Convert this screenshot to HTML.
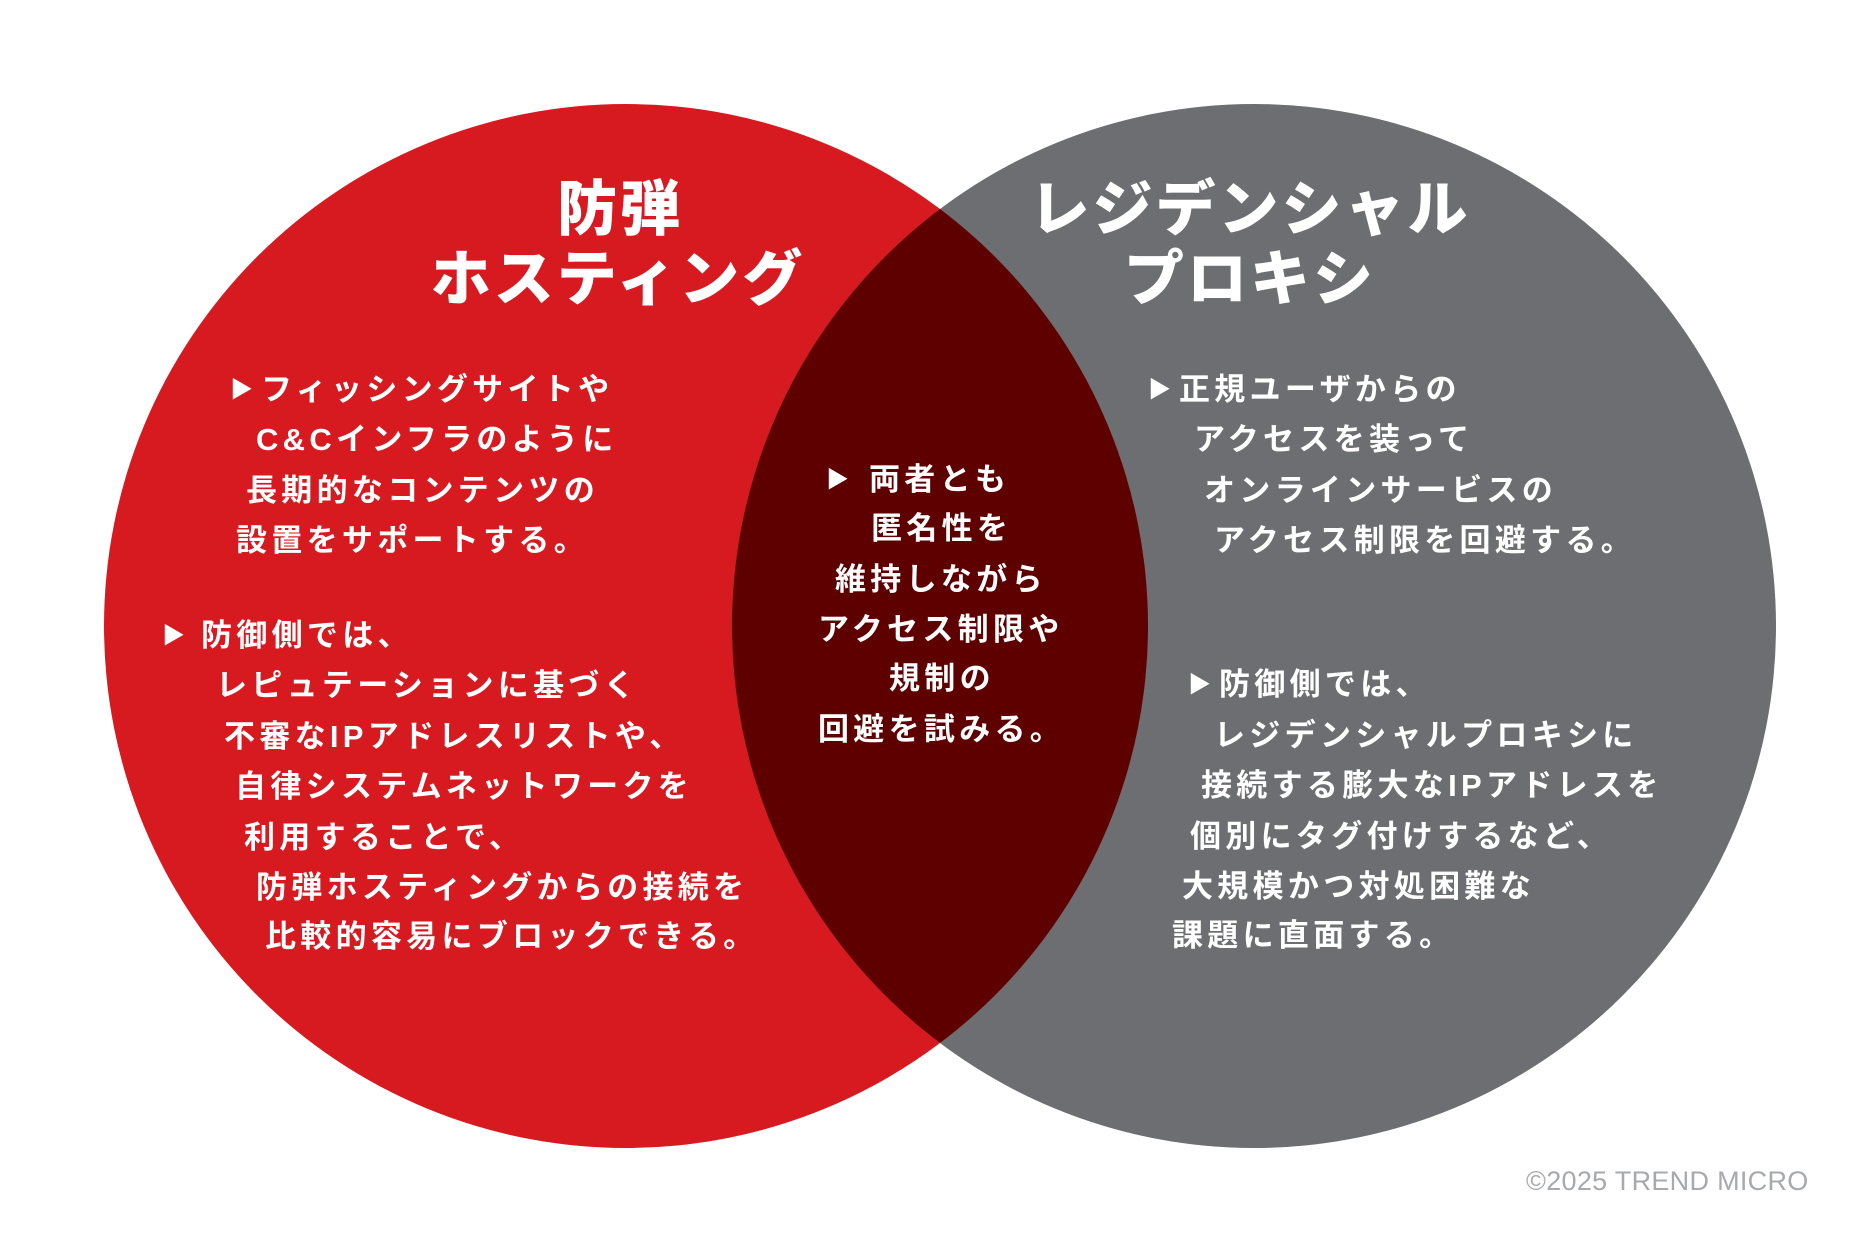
<!DOCTYPE html>
<html><head><meta charset="utf-8"><style>
html,body{margin:0;padding:0;background:#fff;}
body{width:1875px;height:1250px;position:relative;overflow:hidden;font-family:"Liberation Sans","Noto Sans CJK JP",sans-serif;}
svg{position:absolute;left:0;top:0;}
.t{position:absolute;color:#fff;font-weight:bold;font-size:31px;letter-spacing:4.3px;line-height:1;white-space:nowrap;}
.t b{font-size:23px;letter-spacing:0;vertical-align:3px;display:inline-block;margin-right:8px;}
.h{position:absolute;color:#fff;font-weight:900;font-size:60px;letter-spacing:3px;line-height:1;white-space:nowrap;text-align:center;width:600px;}
.c{position:absolute;color:#a7a9ac;font-size:27px;line-height:1;left:1526px;top:1168px;letter-spacing:0.3px;}
</style></head><body>
<svg width="1875" height="1250">
<defs><clipPath id="cl"><circle cx="626" cy="626" r="522"/></clipPath></defs>
<circle cx="626" cy="626" r="522" fill="#d71920"/>
<circle cx="1254" cy="626" r="522" fill="#6d6e71"/>
<circle cx="1254" cy="626" r="522" fill="#5e0000" clip-path="url(#cl)"/>
</svg>
<div class="h" style="left:320px;top:180px">防弾</div>
<div class="h" style="left:318px;top:250px">ホスティング</div>
<div class="h" style="left:950px;top:180px">レジデンシャル</div>
<div class="h" style="left:950px;top:250px">プロキシ</div>

<div class="t" style="left:230px;top:374px"><b>▶</b>フィッシングサイトや</div>
<div class="t" style="left:256px;top:424px">C&amp;Cインフラのように</div>
<div class="t" style="left:246px;top:475px">長期的なコンテンツの</div>
<div class="t" style="left:236px;top:525px">設置をサポートする。</div>

<div class="t" style="left:162px;top:620px"><b style="margin-right:16px">▶</b>防御側では、</div>
<div class="t" style="left:216px;top:670px">レピュテーションに基づく</div>
<div class="t" style="left:224px;top:721px">不審なIPアドレスリストや、</div>
<div class="t" style="left:235px;top:771px">自律システムネットワークを</div>
<div class="t" style="left:244px;top:822px">利用することで、</div>
<div class="t" style="left:256px;top:872px">防弾ホスティングからの接続を</div>
<div class="t" style="left:265px;top:921px">比較的容易にブロックできる。</div>

<div class="t" style="left:826px;top:464px"><b style="margin-right:20px">▶</b>両者とも</div>
<div class="t" style="left:871px;top:513px">匿名性を</div>
<div class="t" style="left:835px;top:564px">維持しながら</div>
<div class="t" style="left:818px;top:614px">アクセス制限や</div>
<div class="t" style="left:889px;top:663px">規制の</div>
<div class="t" style="left:818px;top:714px">回避を試みる。</div>

<div class="t" style="left:1148px;top:374px"><b>▶</b>正規ユーザからの</div>
<div class="t" style="left:1194px;top:424px">アクセスを装って</div>
<div class="t" style="left:1204px;top:475px">オンラインサービスの</div>
<div class="t" style="left:1214px;top:525px">アクセス制限を回避する。</div>

<div class="t" style="left:1188px;top:669px"><b>▶</b>防御側では、</div>
<div class="t" style="left:1214px;top:720px">レジデンシャルプロキシに</div>
<div class="t" style="left:1201px;top:770px">接続する膨大なIPアドレスを</div>
<div class="t" style="left:1190px;top:821px">個別にタグ付けするなど、</div>
<div class="t" style="left:1182px;top:871px">大規模かつ対処困難な</div>
<div class="t" style="left:1172px;top:920px">課題に直面する。</div>

<div class="c">©2025 TREND MICRO</div>
</body></html>
